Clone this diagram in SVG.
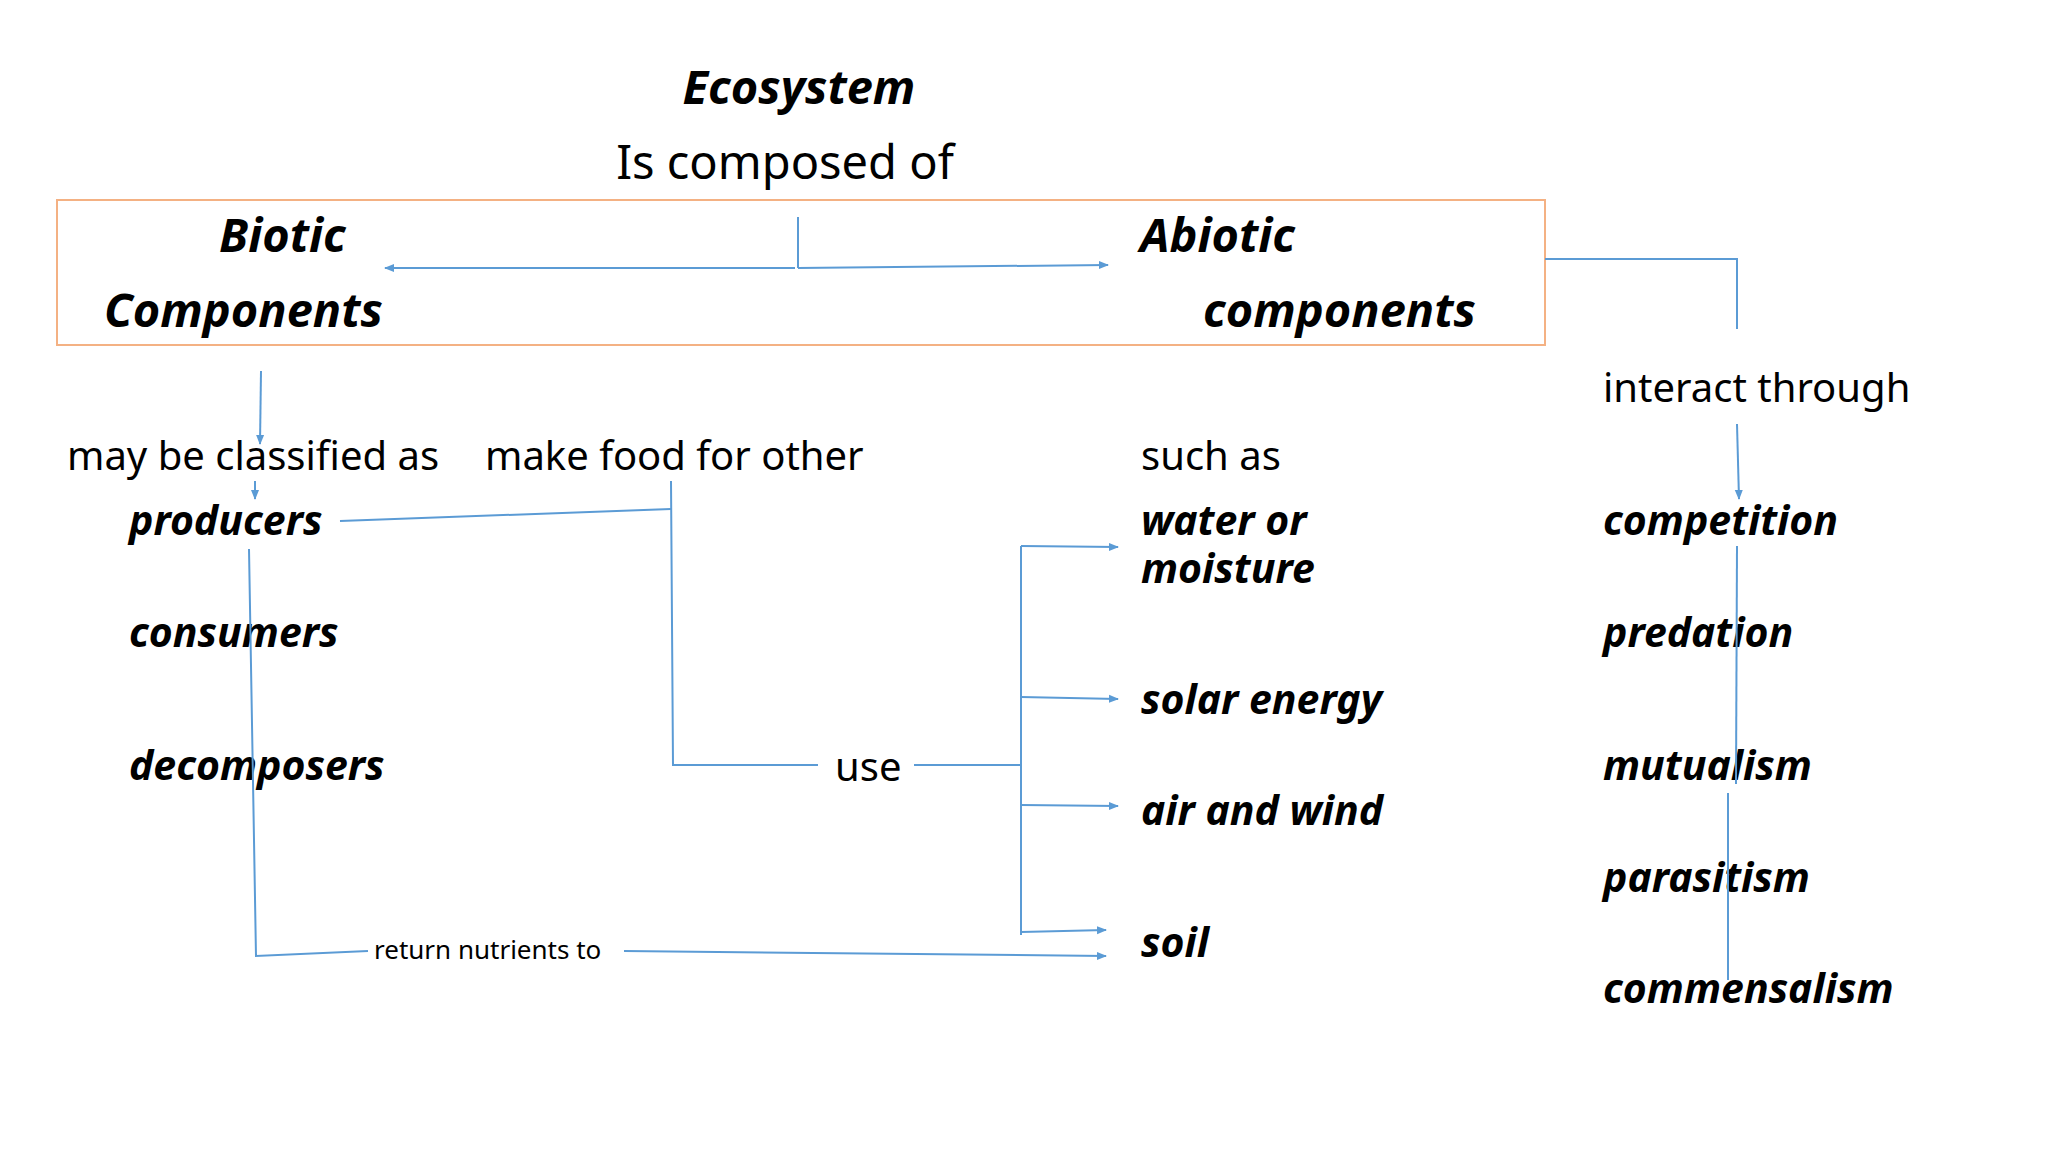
<svg xmlns="http://www.w3.org/2000/svg" width="2048" height="1152" viewBox="0 0 2048 1152">
<style>
text{font-family:"Noto Sans","Open Sans","Liberation Sans",sans-serif;fill:#000}
.h{font-weight:bold;font-style:italic;font-size:47px}
.r{font-size:40px}
.b{font-weight:bold;font-style:italic;font-size:41px}
.c{fill:none;stroke:#5B9BD5;stroke-width:2}
</style>
<defs><marker id="a" markerWidth="10" markerHeight="10" refX="9" refY="5" orient="auto" markerUnits="userSpaceOnUse"><path d="M0,1 L10,5 L0,9z" fill="#5B9BD5"/></marker></defs>
<rect width="2048" height="1152" fill="#fff"/>
<g id="title"><text class="h" x="799" y="104" text-anchor="middle">Ecosystem</text><text x="785" y="179" text-anchor="middle" style="font-size:47px">Is composed of</text></g>
<rect x="57" y="200" width="1488" height="145" fill="none" stroke="#F4B183" stroke-width="2"/>
<g id="biotic"><text class="h" x="219" y="252">Biotic</text><text class="h" x="104" y="327">Components</text></g>
<g id="abiotic"><text class="h" x="1140" y="252">Abiotic</text><text class="h" x="1203" y="327">components</text></g>
<g id="labels">
<text class="r" x="1603" y="402">interact through</text>
<text class="r" x="67" y="470">may be classified as</text>
<text class="r" x="485" y="470">make food for other</text>
<text class="r" x="1141" y="470">such as</text>
<text class="r" x="835" y="781">use</text>
<text x="374" y="959" style="font-size:26px">return nutrients to</text>
</g>
<g id="biotic-list"><text class="b" x="129" y="535">producers</text><text class="b" x="129" y="647">consumers</text><text class="b" x="129" y="780">decomposers</text></g>
<g id="abiotic-list"><text class="b" x="1141" y="535">water or</text><text class="b" x="1141" y="583">moisture</text><text class="b" x="1141" y="714">solar energy</text><text class="b" x="1141" y="825">air and wind</text><text class="b" x="1141" y="957">soil</text></g>
<g id="interactions"><text class="b" x="1603" y="535">competition</text><text class="b" x="1603" y="647">predation</text><text class="b" x="1603" y="780">mutualism</text><text class="b" x="1603" y="892">parasitism</text><text class="b" x="1603" y="1003">commensalism</text></g>
<g id="connectors">
<path class="c" d="M798,217 L798,268"/>
<path class="c" d="M795,268 L385,268" marker-end="url(#a)"/>
<path class="c" d="M798,268 L1108,265" marker-end="url(#a)"/>
<path class="c" d="M1545,259 L1737,259 L1737,329"/>
<path class="c" d="M1737,424 L1739,499" marker-end="url(#a)"/>
<path class="c" d="M1737,546 L1736,784"/>
<path class="c" d="M1728,793 L1728,980"/>
<path class="c" d="M261,371 L260,444" marker-end="url(#a)"/>
<path class="c" d="M255,481 L255,499" marker-end="url(#a)"/>
<path class="c" d="M340,521 L671,509"/>
<path class="c" d="M671,481 L673,765 L818,765"/>
<path class="c" d="M914,765 L1021,765"/>
<path class="c" d="M1021,546 L1021,935"/>
<path class="c" d="M1021,546 L1118,547" marker-end="url(#a)"/>
<path class="c" d="M1021,697 L1118,699" marker-end="url(#a)"/>
<path class="c" d="M1021,805 L1118,806" marker-end="url(#a)"/>
<path class="c" d="M1021,932 L1106,930" marker-end="url(#a)"/>
<path class="c" d="M249,549 L256,956 L368,951"/>
<path class="c" d="M624,951 L1106,956" marker-end="url(#a)"/>
</g>
</svg>
